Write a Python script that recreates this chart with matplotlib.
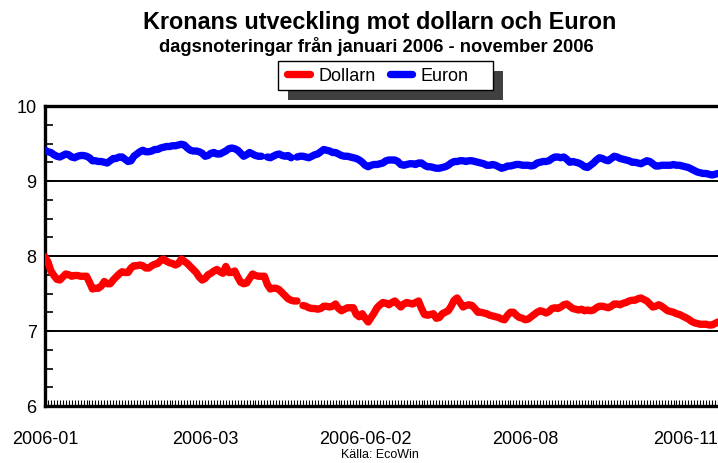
import numpy as np
import matplotlib
matplotlib.use("Agg")
import matplotlib.pyplot as plt
from matplotlib.patches import Rectangle
from matplotlib.ticker import MultipleLocator

plt.rcParams['font.family'] = ['Liberation Sans', 'DejaVu Sans']

nan = np.nan

# daily quotes, SEK per USD / SEK per EUR
dollarn = [
    7.99, 7.92, 7.80, 7.74, 7.69, 7.68, 7.72, 7.76, 7.75, 7.73,
    7.74, 7.74, 7.73, 7.73, 7.73, 7.65, 7.56, 7.57, 7.57, 7.60,
    7.66, 7.63, 7.63, 7.68, 7.72, 7.76, 7.79, 7.78, 7.78, 7.84,
    7.87, 7.87, 7.88, 7.87, 7.84, 7.84, 7.87, 7.89, 7.90, 7.94,
    7.96, 7.93, 7.91, 7.90, 7.88, 7.90, 7.96, 7.93, 7.90, 7.86,
    7.82, 7.78, 7.72, 7.68, 7.70, 7.75, 7.77, 7.80, 7.82, 7.79,
    7.77, 7.86, 7.78, 7.78, 7.80, 7.72, 7.65, 7.63, 7.64, 7.70,
    7.76, 7.74, 7.73, 7.73, 7.73, 7.62, 7.56, 7.57, 7.57, 7.55,
    7.51, 7.47, 7.43, 7.41, 7.40, 7.40, nan, 7.34, 7.33, 7.31,
    7.30, 7.30, 7.29, 7.30, 7.33, 7.33, 7.32, 7.33, 7.36, 7.30,
    7.27, 7.29, 7.31, 7.31, 7.31, 7.22, 7.19, 7.23, 7.17, 7.12,
    7.18, 7.24, 7.31, 7.35, 7.38, 7.37, 7.35, 7.38, 7.40, 7.36,
    7.32, 7.36, 7.38, 7.37, 7.36, 7.38, 7.40, 7.30, 7.22, 7.21,
    7.22, 7.23, 7.17, 7.18, 7.23, 7.25, 7.27, 7.33, 7.41, 7.44,
    7.38, 7.32, 7.34, 7.35, 7.34, 7.30, 7.25, 7.25, 7.24, 7.23,
    7.21, 7.20, 7.19, 7.18, 7.16, 7.15, 7.21, 7.25, 7.25, 7.21,
    7.18, 7.17, 7.15, 7.16, 7.19, 7.22, 7.25, 7.27, 7.26, 7.24,
    7.26, 7.30, 7.31, 7.30, 7.32, 7.35, 7.36, 7.33, 7.30, 7.29,
    7.28, 7.29, 7.27, 7.28, 7.27, 7.28, 7.31, 7.33, 7.33, 7.32,
    7.31, 7.33, 7.36, 7.36, 7.35, 7.37, 7.38, 7.40, 7.41, 7.41,
    7.43, 7.44, 7.42, 7.40, 7.36, 7.32, 7.33, 7.35, 7.33, 7.30,
    7.27, 7.26, 7.25, 7.23, 7.22, 7.20, 7.18, 7.16, 7.13, 7.11,
    7.10, 7.09, 7.09, 7.09, 7.08, 7.08, 7.10, 7.12,
]

euron = [
    9.41, 9.39, 9.38, 9.35, 9.33, 9.32, 9.34, 9.36, 9.35, 9.32,
    9.31, 9.33, 9.34, 9.34, 9.33, 9.31, 9.27, 9.27, 9.26, 9.26,
    9.25, 9.24, 9.27, 9.30, 9.30, 9.32, 9.32, 9.29, 9.26, 9.27,
    9.33, 9.36, 9.39, 9.41, 9.39, 9.39, 9.40, 9.42, 9.42, 9.44,
    9.45, 9.46, 9.46, 9.47, 9.47, 9.48, 9.49, 9.48, 9.44, 9.41,
    9.40, 9.40, 9.39, 9.37, 9.33, 9.34, 9.37, 9.38, 9.36, 9.36,
    9.38, 9.40, 9.43, 9.44, 9.43, 9.41, 9.37, 9.33, 9.35, 9.38,
    9.36, 9.34, 9.33, 9.33, nan, 9.32, 9.31, 9.33, 9.35, 9.36,
    9.34, 9.33, 9.34, 9.31, nan, 9.32, 9.33, 9.33, 9.32, 9.31,
    9.33, 9.35, 9.36, 9.39, 9.42, 9.41, 9.40, 9.38, 9.38, 9.36,
    9.34, 9.33, 9.33, 9.32, 9.31, 9.30, 9.28, 9.25, 9.21, 9.19,
    9.21, 9.22, 9.22, 9.23, 9.24, 9.27, 9.28, 9.28, 9.28, 9.26,
    9.22, 9.21, 9.22, 9.23, 9.23, 9.22, 9.24, 9.24, 9.21, 9.19,
    9.19, 9.18, 9.17, 9.17, 9.18, 9.19, 9.21, 9.24, 9.26, 9.26,
    9.27, 9.27, 9.26, 9.27, 9.27, 9.26, 9.25, 9.24, 9.23, 9.21,
    9.21, 9.22, 9.21, 9.19, 9.17, 9.18, 9.20, 9.20, 9.21, 9.22,
    9.22, 9.21, 9.21, 9.21, 9.20, 9.21, 9.24, 9.25, 9.26, 9.26,
    9.27, 9.30, 9.32, 9.32, 9.31, 9.32, 9.29, 9.25, 9.26, 9.25,
    9.24, 9.22, 9.19, 9.18, 9.21, 9.24, 9.28, 9.31, 9.30, 9.28,
    9.27, 9.30, 9.33, 9.32, 9.30, 9.29, 9.28, 9.27, 9.25, 9.25,
    9.24, 9.23, 9.25, 9.27, 9.26, 9.23, 9.20, 9.20, 9.21, 9.21,
    9.21, 9.21, 9.22, 9.21, 9.21, 9.20, 9.19, 9.18, 9.16, 9.14,
    9.12, 9.11, 9.10, 9.10, 9.09, 9.08, 9.09, 9.10,
]

tick_pos = [0, 54, 108, 162, 216]
tick_labels = ["2006-01", "2006-03", "2006-06-02", "2006-08", "2006-11"]

W, H = 718, 464
fig = plt.figure(figsize=(W / 100, H / 100), dpi=100)
ax = fig.add_axes([45 / W, 1 - 407 / H, 673 / W, 300 / H])

x = np.arange(len(dollarn))
ax.plot(x, dollarn, color='#ff0000', lw=5.3, solid_capstyle='round', label='Dollarn', zorder=3)
ax.plot(x, euron, color='#0000ff', lw=5.3, solid_capstyle='round', label='Euron', zorder=3)

ax.set_xlim(0, len(dollarn) - 1)
ax.set_ylim(6, 10)
for v in [7, 8, 9]:
    ax.axhline(v, color='black', lw=1.4, zorder=2)

ax.yaxis.set_major_locator(MultipleLocator(1))
ax.yaxis.set_minor_locator(MultipleLocator(0.25))
ax.set_xticks(tick_pos)
ax.set_xticklabels(tick_labels)
ax.set_xticks(x, minor=True)
ax.tick_params(axis='y', which='both', direction='in', length=6, width=1.2, labelsize=13, pad=6)
ax.tick_params(axis='x', which='both', direction='in', length=4.5, width=0.8, labelsize=13, pad=17)

ax.spines['right'].set_visible(False)
for s in ['left', 'bottom', 'top']:
    ax.spines[s].set_linewidth(2.4)

fig.text(380 / W, 1 - 22 / H, "Kronans utveckling mot dollarn och Euron",
         ha='center', va='center', fontsize=16.8, fontweight='bold')
fig.text(376 / W, 1 - 46 / H, "dagsnoteringar från januari 2006 - november 2006",
         ha='center', va='center', fontsize=13.2, fontweight='bold')
fig.text(380 / W, 1 - 455 / H, "Källa: EcoWin", ha='center', va='center', fontsize=9)

# legend box with drop shadow
fig.add_artist(Rectangle((288 / W, 1 - 101 / H), 215 / W, 29 / H,
                         transform=fig.transFigure, facecolor='#404040', edgecolor='none'))
fig.add_artist(Rectangle((278 / W, 1 - 91 / H), 215 / W, 29 / H,
                         transform=fig.transFigure, facecolor='white', edgecolor='black', lw=1))
fig.legend(loc='center', bbox_to_anchor=(378 / W, 1 - 76.5 / H), ncol=2, frameon=False,
           fontsize=13, handlelength=1.25, handletextpad=0.45, columnspacing=0.8)

fig.savefig("out.png", dpi=100)
